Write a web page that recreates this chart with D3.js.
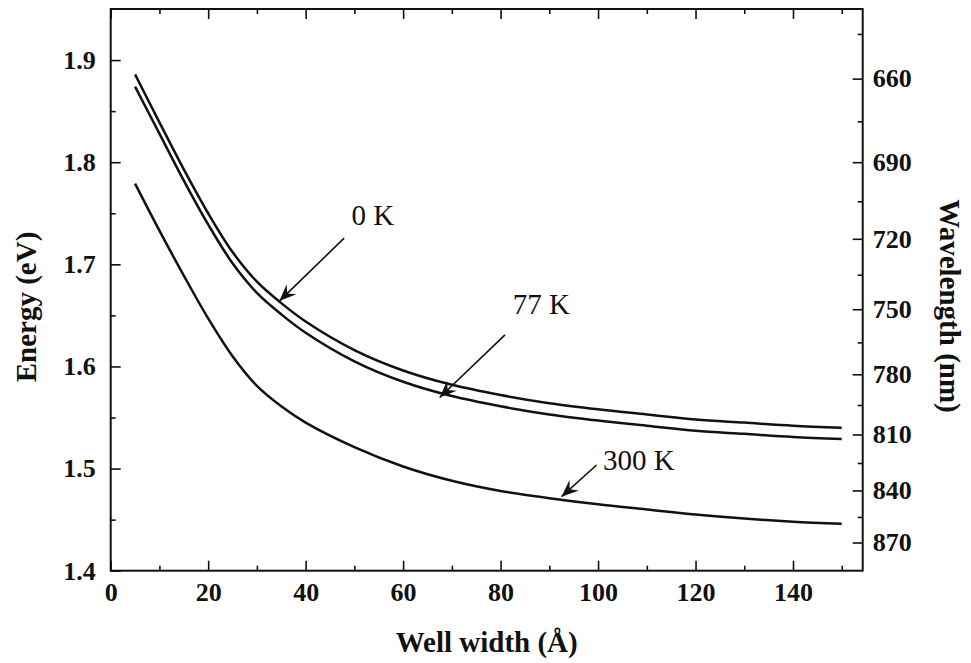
<!DOCTYPE html>
<html>
<head>
<meta charset="utf-8">
<script src="https://cdn.jsdelivr.net/npm/d3@7"></script>
<style>
  body { margin: 0; background: #fff; }
  svg { display: block; }
  .tick text { font-family: "Liberation Serif", "Times New Roman", serif; font-weight: bold; font-size: 26px; fill: #111; }
  .title { font-family: "Liberation Serif", "Times New Roman", serif; font-weight: bold; font-size: 29px; fill: #111; }
  .note { font-family: "Liberation Serif", "Times New Roman", serif; font-size: 29px; fill: #111; }
</style>
</head>
<body>
<svg id="chart" width="971" height="663"></svg>
<script>
// well width (Angstrom) and transition energy (eV)
const widths = [5, 10, 15, 20, 25, 30, 35, 40, 50, 60, 70, 80, 90, 100, 110, 120, 130, 140, 150];
const energy0K = [1.886, 1.839, 1.793, 1.750, 1.712, 1.683, 1.662, 1.644, 1.616, 1.596, 1.582, 1.572, 1.564, 1.558, 1.553, 1.548, 1.545, 1.542, 1.540];
const energy77K = [1.874, 1.828, 1.782, 1.739, 1.701, 1.672, 1.651, 1.633, 1.605, 1.585, 1.571, 1.561, 1.553, 1.547, 1.542, 1.537, 1.534, 1.531, 1.529];
const energy300K = [1.779, 1.733, 1.689, 1.647, 1.610, 1.581, 1.561, 1.545, 1.521, 1.502, 1.488, 1.478, 1.471, 1.465, 1.460, 1.455, 1.451, 1.448, 1.446];

const xTicks = [0, 20, 40, 60, 80, 100, 120, 140];
const xMinor = [10, 30, 50, 70, 90, 110, 130, 150];
const yTicks = [1.4, 1.5, 1.6, 1.7, 1.8, 1.9];
const yMinor = [1.45, 1.55, 1.65, 1.75, 1.85];
const waveTicks = [660, 690, 720, 750, 780, 810, 840, 870];
const waveMinor = [645, 675, 705, 735, 765, 795, 825, 855];

// annotation: label, arrow tail [w, E], arrow tip [w, E], text anchor [w, E]
const noteLabels = ["0 K", "77 K", "300 K"];
const noteTails = [[47.9, 1.7256], [80.9, 1.6309], [99.7, 1.5035]];
const noteTips = [[34.6, 1.664], [67.5, 1.5696], [92.5, 1.4725]];
const noteTexts = [[49.4, 1.7384], [82.5, 1.6514], [101, 1.4986]];

const hc = 1242; // eV*nm

const svg = d3.select("#chart");
const plotLeft = 110.7, plotRight = 862.7, plotTop = 9, plotBottom = 570.7;

const x = d3.scaleLinear().domain([0, 154.3]).range([plotLeft, plotRight]);
const y = d3.scaleLinear().domain([1.4, 1.95]).range([plotBottom, plotTop]);

drawAxes();
drawCurves();
drawNotes();

function styleAxis(g) {
    g.select(".domain").remove();
    g.selectAll(".tick line").attr("stroke", "#111").attr("stroke-width", 1.6);
}

function drawAxes() {
    // frame
    svg.append("rect")
        .attr("x", plotLeft)
        .attr("y", plotTop)
        .attr("width", plotRight - plotLeft)
        .attr("height", plotBottom - plotTop)
        .attr("fill", "none")
        .attr("stroke", "#111")
        .attr("stroke-width", 2);

    // bottom
    svg.append("g")
        .attr("transform", `translate(0,${plotBottom})`)
        .call(d3.axisBottom(x).tickValues(xTicks).tickSize(-10).tickPadding(10).tickFormat(d3.format("d")))
        .call(styleAxis)
        .selectAll("text").attr("dy", "0.78em");
    svg.append("g")
        .attr("transform", `translate(0,${plotBottom})`)
        .call(d3.axisBottom(x).tickValues(xMinor).tickSize(-5).tickFormat(""))
        .call(styleAxis);

    // top
    svg.append("g")
        .attr("transform", `translate(0,${plotTop})`)
        .call(d3.axisTop(x).tickValues(xTicks).tickSize(-10).tickFormat(""))
        .call(styleAxis);
    svg.append("g")
        .attr("transform", `translate(0,${plotTop})`)
        .call(d3.axisTop(x).tickValues(xMinor).tickSize(-5).tickFormat(""))
        .call(styleAxis);

    // left
    svg.append("g")
        .attr("transform", `translate(${plotLeft},0)`)
        .call(d3.axisLeft(y).tickValues(yTicks).tickSize(-10).tickPadding(15).tickFormat(d3.format(".1f")))
        .call(styleAxis);
    svg.append("g")
        .attr("transform", `translate(${plotLeft},0)`)
        .call(d3.axisLeft(y).tickValues(yMinor).tickSize(-5).tickFormat(""))
        .call(styleAxis);

    // right, wavelength
    svg.append("g")
        .attr("transform", `translate(${plotRight},0)`)
        .call(d3.axisRight(y).tickValues(waveTicks.map(w => hc / w)).tickSize(-10).tickPadding(10)
            .tickFormat(e => Math.round(hc / e)))
        .call(styleAxis);
    svg.append("g")
        .attr("transform", `translate(${plotRight},0)`)
        .call(d3.axisRight(y).tickValues(waveMinor.map(w => hc / w)).tickSize(-5).tickFormat(""))
        .call(styleAxis);

    svg.append("text")
        .attr("class", "title")
        .attr("text-anchor", "middle")
        .attr("x", (plotLeft + plotRight) / 2)
        .attr("y", 652)
        .text("Well width (Å)");

    svg.append("text")
        .attr("class", "title")
        .attr("text-anchor", "middle")
        .attr("transform", `translate(36,307) rotate(-90)`)
        .text("Energy (eV)");

    svg.append("text")
        .attr("class", "title")
        .attr("text-anchor", "middle")
        .attr("transform", `translate(940,306) rotate(90)`)
        .text("Wavelength (nm)");
}

function drawCurves() {
    const series = [energy0K, energy77K, energy300K];
    const line = d3.line()
        .x((d, i) => x(widths[i]))
        .y(d => y(d))
        .curve(d3.curveCatmullRom.alpha(0.5));

    svg.selectAll(".curve")
        .data(series)
        .enter()
        .append("path")
        .attr("class", "curve")
        .attr("d", d => line(d))
        .attr("fill", "none")
        .attr("stroke", "#111")
        .attr("stroke-width", 2.5);
}

function drawNotes() {
    svg.append("defs").append("marker")
        .attr("id", "head")
        .attr("viewBox", "-18 -8 20 16")
        .attr("refX", 0)
        .attr("refY", 0)
        .attr("markerWidth", 20)
        .attr("markerHeight", 16)
        .attr("markerUnits", "userSpaceOnUse")
        .attr("orient", "auto")
        .append("path")
        .attr("d", "M0,0 L-17,-7 L-11,0 L-17,7 Z")
        .attr("fill", "#111");

    svg.selectAll(".arrow")
        .data(noteLabels)
        .enter()
        .append("line")
        .attr("class", "arrow")
        .attr("x1", (d, i) => x(noteTails[i][0]))
        .attr("y1", (d, i) => y(noteTails[i][1]))
        .attr("x2", (d, i) => x(noteTips[i][0]))
        .attr("y2", (d, i) => y(noteTips[i][1]))
        .attr("stroke", "#111")
        .attr("stroke-width", 1.6)
        .attr("marker-end", "url(#head)");

    svg.selectAll(".note")
        .data(noteLabels)
        .enter()
        .append("text")
        .attr("class", "note")
        .attr("x", (d, i) => x(noteTexts[i][0]))
        .attr("y", (d, i) => y(noteTexts[i][1]))
        .text(d => d);
}
</script>
</body>
</html>
